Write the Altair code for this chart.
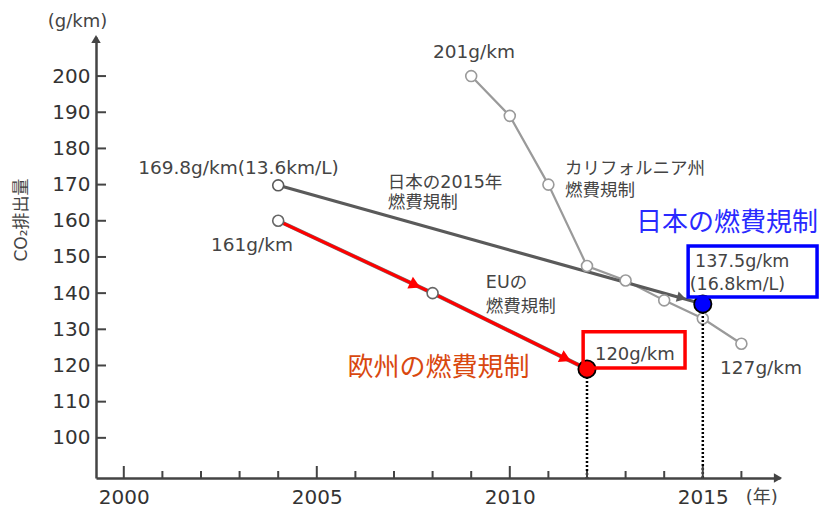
import altair as alt
import pandas as pd

# ---------------- data ----------------
ca_years = [2009, 2010, 2011, 2012, 2013, 2014, 2015, 2016]
ca_values = [200, 189, 170, 147.5, 143.5, 138, 133, 126]

jp_years = [2004, 2015]
jp_values = [169.8, 137]

eu_years = [2004, 2008, 2012]
eu_values = [160, 140, 119]

y_ticks = [100, 110, 120, 130, 140, 150, 160, 170, 180, 190, 200]
x_major = [2000, 2005, 2010, 2015]
x_minor = [y for y in range(2001, 2017) if y not in x_major]

# annotation texts with anchor (year, value)
gray_labels = ["201g/km", "169.8g/km(13.6km/L)", "161g/km", "127g/km"]
gray_label_x = [2009.07, 2002.97, 2003.32, 2016.51]
gray_label_y = [206.7, 174.6, 153.3, 119.3]

left_labels = ["日本の2015年", "燃費規制", "カリフォルニア州", "燃費規制", "EUの", "燃費規制",
               "137.5g/km", "(16.8km/L)"]
left_label_x = [2006.84, 2006.84, 2011.43, 2011.43, 2009.38, 2009.38, 2014.80, 2014.66]
left_label_y = [170.4, 164.9, 174.3, 168.1, 142.8, 136.2, 148.6, 142.3]

XMIN, XMAX = 1999.28, 2017.0
YMIN, YMAX = 88.9, 210.8
W, H = 684, 441

FONT = "DejaVu Sans, Noto Sans CJK JP"
CJK = "Noto Sans CJK JP"
GRAY_TXT = "#444444"

xs = alt.Scale(domain=[XMIN, XMAX], nice=False, zero=False)
ys = alt.Scale(domain=[YMIN, YMAX], nice=False, zero=False)

x_axis = alt.Axis(values=x_major, format="d", ticks=False, grid=False,
                  domainColor="#444", domainWidth=2.5, labelFont=FONT,
                  labelFontSize=20, labelColor="#333", labelPadding=9, title=None)
y_axis = alt.Axis(values=y_ticks, format="d", ticks=False, grid=False,
                  domainColor="#444", domainWidth=2.5, labelFont=FONT,
                  labelFontSize=20, labelColor="#333", labelPadding=6, title=None)


def X(field="x"):
    return alt.X(f"{field}:Q", scale=xs, axis=x_axis)


def Y(field="y"):
    return alt.Y(f"{field}:Q", scale=ys, axis=y_axis)


ca_df = pd.DataFrame({"x": ca_years, "y": ca_values})
jp_df = pd.DataFrame({"x": jp_years, "y": jp_values})
eu_df = pd.DataFrame({"x": eu_years, "y": eu_values})

# inside ticks
yt = alt.Chart(pd.DataFrame({"y": y_ticks})).mark_rule(color="#444", strokeWidth=2).encode(
    y=Y(), x=alt.value(0), x2=alt.value(10)
)
xt_major = alt.Chart(pd.DataFrame({"x": x_major})).mark_rule(color="#444", strokeWidth=2).encode(
    x=X(), y=alt.value(H), y2=alt.value(H - 12)
)
xt_minor = alt.Chart(pd.DataFrame({"x": x_minor})).mark_rule(color="#444", strokeWidth=2).encode(
    x=X(), y=alt.value(H), y2=alt.value(H - 7)
)
# axis arrowheads
arrow_y = alt.Chart(pd.DataFrame({"a": [0]})).mark_point(
    shape="triangle-up", filled=True, color="#444", size=90, opacity=1
).encode(x=alt.value(0), y=alt.value(2))
arrow_x = alt.Chart(pd.DataFrame({"a": [0]})).mark_point(
    shape="triangle-right", filled=True, color="#444", size=90, opacity=1
).encode(x=alt.value(W - 2), y=alt.value(H))

# series lines
ca_line = alt.Chart(ca_df).mark_line(color="#9a9a9a", strokeWidth=2.2).encode(x=X(), y=Y())
ca_pts = alt.Chart(ca_df).mark_point(shape="circle", filled=True, fill="white", stroke="#9a9a9a",
                                     strokeWidth=1.6, size=120, opacity=1).encode(x=X(), y=Y())

jp_line = alt.Chart(jp_df).mark_line(color="#5a5a5a", strokeWidth=3.2).encode(x=X(), y=Y())
jp_start = alt.Chart(jp_df.iloc[:1]).mark_point(shape="circle", filled=True, fill="white",
                                                stroke="#5a5a5a", strokeWidth=1.6, size=120,
                                                opacity=1).encode(x=X(), y=Y())
jp_arrow = alt.Chart(pd.DataFrame({"x": [2014.45], "y": [138.7]})).mark_point(
    shape="triangle-right", filled=True, color="#5a5a5a", size=110, angle=15.6, opacity=1
).encode(x=X(), y=Y())

eu_gray = alt.Chart(eu_df).mark_line(color="#777777", strokeWidth=4).encode(x=X(), y=Y())
eu_red = alt.Chart(eu_df).mark_line(color="#ff0000", strokeWidth=3).encode(x=X(), y=Y())
eu_pts = alt.Chart(eu_df.iloc[:2]).mark_point(shape="circle", filled=True, fill="white",
                                              stroke="#666", strokeWidth=1.6, size=120,
                                              opacity=1).encode(x=X(), y=Y())
red_arrow1 = alt.Chart(pd.DataFrame({"x": [2007.55], "y": [142.25]})).mark_point(
    shape="triangle-right", filled=True, color="#ff0000", size=170, angle=25.1, opacity=1
).encode(x=X(), y=Y())
red_arrow2 = alt.Chart(pd.DataFrame({"x": [2011.45], "y": [121.9]})).mark_point(
    shape="triangle-right", filled=True, color="#ff0000", size=170, angle=26.2, opacity=1
).encode(x=X(), y=Y())

# dotted drop lines
drops = pd.DataFrame({"x": [eu_years[-1], jp_years[-1]], "y": [eu_values[-1], jp_values[-1]]})
drop_rules = alt.Chart(drops).mark_rule(color="black", strokeWidth=2.5, strokeDash=[2, 2]).encode(
    x=X(), y=Y(), y2=alt.value(H)
)

# highlighted dots
red_dot = alt.Chart(eu_df.iloc[2:]).mark_point(shape="circle", filled=True, fill="#ff0000",
                                               stroke="black", strokeWidth=1.8, size=300,
                                               opacity=1).encode(x=X(), y=Y())
blue_dot = alt.Chart(jp_df.iloc[1:]).mark_point(shape="circle", filled=True, fill="#0000ff",
                                                stroke="black", strokeWidth=1.8, size=300,
                                                opacity=1).encode(x=X(), y=Y())

# boxes
blue_box = alt.Chart(pd.DataFrame({"x": [2014.62], "x2": [2017.96], "y": [153.0], "y2": [138.9]})).mark_rect(
    fill=None, stroke="#0000ff", strokeWidth=3.5, clip=False
).encode(x=X(), x2="x2:Q", y=Y(), y2="y2:Q")
red_box = alt.Chart(pd.DataFrame({"x": [2011.90], "x2": [2014.54], "y": [129.3], "y2": [119.3]})).mark_rect(
    fill=None, stroke="#ff0000", strokeWidth=3.5, clip=False
).encode(x=X(), x2="x2:Q", y=Y(), y2="y2:Q")

# texts
gl = alt.Chart(pd.DataFrame({"t": gray_labels, "x": gray_label_x, "y": gray_label_y})).mark_text(
    font=FONT, fontSize=18.5, color=GRAY_TXT, align="center", baseline="middle", clip=False
).encode(x=X(), y=Y(), text="t:N")
ll = alt.Chart(pd.DataFrame({"t": left_labels, "x": left_label_x, "y": left_label_y})).mark_text(
    font=FONT, fontSize=17.5, color=GRAY_TXT, align="left", baseline="middle", clip=False
).encode(x=X(), y=Y(), text="t:N")
t120 = alt.Chart(pd.DataFrame({"t": ["120g/km"], "x": [2013.24], "y": [122.8]})).mark_text(
    font=FONT, fontSize=18, color=GRAY_TXT, align="center", baseline="middle"
).encode(x=X(), y=Y(), text="t:N")

jp_title = alt.Chart(pd.DataFrame({"t": ["日本の燃費規制"], "x": [2015.63], "y": [159.4]})).mark_text(
    font=CJK, fontSize=26, color="#2a2aff", align="center", baseline="middle", clip=False
).encode(x=X(), y=Y(), text="t:N")
eu_title = alt.Chart(pd.DataFrame({"t": ["欧州の燃費規制"], "x": [2008.15], "y": [119.3]})).mark_text(
    font=CJK, fontSize=26, color="#d9480f", align="center", baseline="middle"
).encode(x=X(), y=Y(), text="t:N")

unit_y = alt.Chart(pd.DataFrame({"t": ["(g/km)"], "x": [1998.80], "y": [214.9]})).mark_text(
    font=FONT, fontSize=18, color=GRAY_TXT, align="center", baseline="middle", clip=False
).encode(x=X(), y=Y(), text="t:N")
unit_x = alt.Chart(pd.DataFrame({"t": ["(年)"], "x": [2016.53], "y": [83.4]})).mark_text(
    font=FONT, fontSize=18, color=GRAY_TXT, align="center", baseline="middle", clip=False
).encode(x=X(), y=Y(), text="t:N")
y_title = alt.Chart(pd.DataFrame({"t": ["CO₂排出量"]})).mark_text(
    font=FONT, fontSize=17, color=GRAY_TXT, align="center", baseline="middle", angle=270
).encode(x=alt.value(-74), y=alt.value(183), text="t:N")

chart = alt.layer(
    ca_line, jp_line, eu_gray, eu_red, ca_pts, jp_start, eu_pts,
    jp_arrow, red_arrow1, red_arrow2, drop_rules, red_dot, blue_dot,
    yt, xt_major, xt_minor, arrow_y, arrow_x,
    blue_box, red_box, gl, ll, t120, jp_title, eu_title, unit_y, unit_x, y_title
).properties(
    width=W, height=H,
    autosize=alt.AutoSizeParams(type="none"),
    padding={"left": 96, "top": 37, "right": 823 - 96 - W, "bottom": 512 - 37 - H},
    background="white"
).configure_view(stroke=None)

chart.save("out.html", embed_options={"renderer": "svg", "actions": False})
